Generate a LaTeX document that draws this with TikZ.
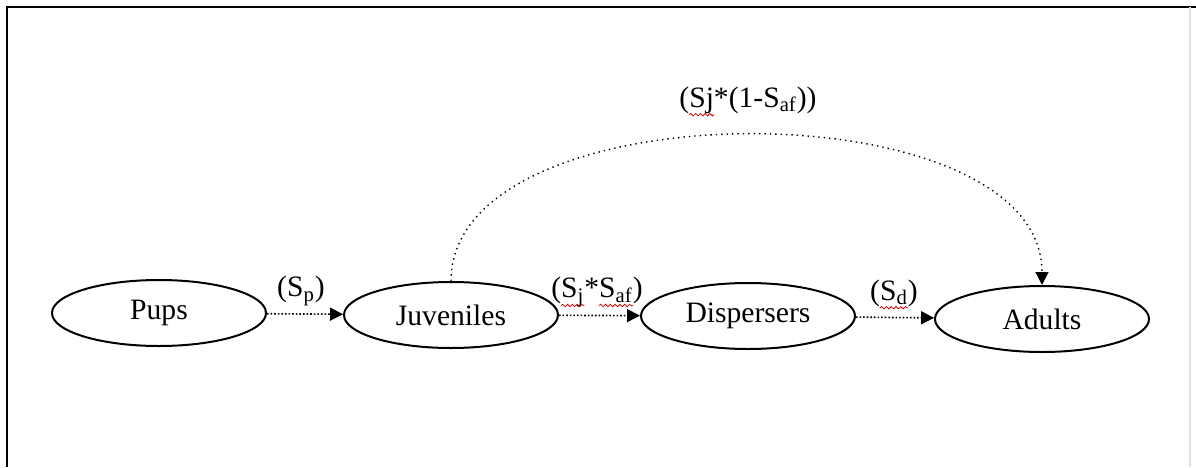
\documentclass[tikz,border=0pt]{standalone}
\usepackage{fontspec}
\setmainfont{Liberation Serif}
\usetikzlibrary{shapes.geometric,arrows.meta,decorations.pathmorphing}

% red spell-check wave under a word
\newlength{\spellwd}
\newcommand{\spellmark}[1]{\settowidth{\spellwd}{#1}%
  \rlap{\tikz[overlay, baseline=0pt, x=1pt, y=1pt]
    \draw[red!85!black, line width=0.4pt, decorate,
      decoration={snake, amplitude=0.6pt, segment length=2.4pt}]
      (0,-3.8) -- (\the\spellwd,-3.8);}#1}

\tikzset{
  stage/.style={draw, ellipse, line width=1pt, minimum width=107pt, minimum height=33pt,
    inner sep=0pt, font=\fontsize{14.8}{18}\selectfont},
  rate/.style={font=\fontsize{14.8}{18}\selectfont, inner sep=1pt},
  flow/.style={densely dotted, line width=0.8pt, -{Triangle[length=6.5pt,width=6.5pt]}},
}

\begin{document}
\begin{tikzpicture}[x=0.5pt,y=-0.5pt]
    % =========================================
    % 1. Canvas and frame
    % =========================================
    \useasboundingbox (0,0) rectangle (1196,467);
    \fill[white] (0,0) rectangle (1196,467);
    \draw[line width=1pt] (7,467) -- (7,7) -- (1196,7);
    \draw[black!12, line width=0.6pt] (1190,7) -- (1190,467);

    % =========================================
    % 2. Life stages
    % =========================================
    \node[stage] (Pups)       at (159,313)  {Pups};
    \node[stage] (Juveniles)  at (451,315)  {Juveniles};
    \node[stage] (Dispersers) at (748,316)  {Dispersers};
    \node[stage] (Adults)     at (1042,319) {Adults};

    % =========================================
    % 3. Transitions
    % =========================================
    \draw[flow] (Pups) -- (Juveniles);
    \draw[flow] (Juveniles) -- (Dispersers);
    \draw[flow] (Dispersers) -- (Adults);

    % long jump juveniles -> adults
    \draw[dotted, line width=0.7pt, -{Triangle[length=6.5pt,width=6.5pt]}]
      (Juveniles.north) .. controls (451,86) and (1042,86) .. (Adults.north);

    % =========================================
    % 4. Rates
    % =========================================
    \node[rate] (RateSp)   at (301,291) {(S\textsubscript{p})};
    \node[rate] (RateSjaf) at (597,292) {(\spellmark{S\textsubscript{j}}*\spellmark{S\textsubscript{af}})};
    \node[rate] (RateSd)   at (894,293) {(\spellmark{S\textsubscript{d}})};
    \node[rate] (RateTop)  at (748,100) {(\spellmark{Sj}*(1-S\textsubscript{af}))};

\end{tikzpicture}
\end{document}
